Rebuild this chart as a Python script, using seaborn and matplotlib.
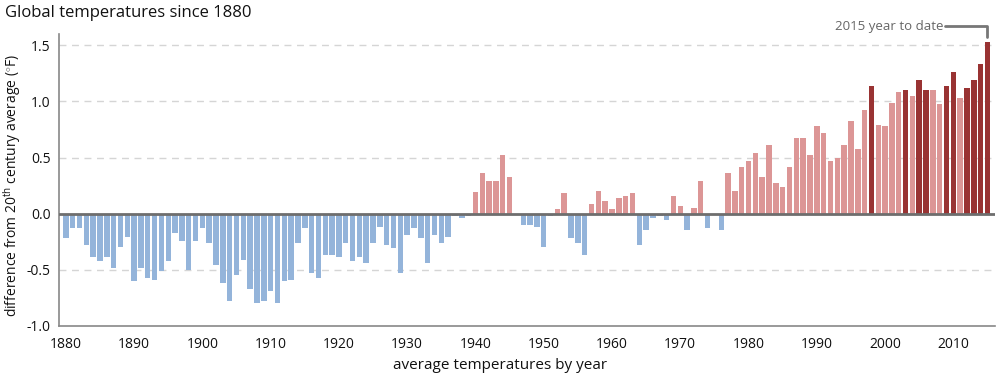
import numpy as np
import pandas as pd
import matplotlib
matplotlib.use('Agg')
import matplotlib.pyplot as plt
import seaborn as sns

# yearly anomaly (deg F), 1880 - 2015
years = list(range(1880, 2016))
anomaly = [
	-0.22, -0.13, -0.13, -0.28, -0.39, -0.42, -0.39, -0.48, -0.30, -0.21,   # 1880s
	-0.60, -0.48, -0.57, -0.59, -0.51, -0.42, -0.17, -0.24, -0.50, -0.24,   # 1890s
	-0.13, -0.26, -0.46, -0.62, -0.78, -0.55, -0.41, -0.67, -0.80, -0.78,   # 1900s
	-0.69, -0.80, -0.60, -0.59, -0.26, -0.13, -0.53, -0.57, -0.37, -0.37,   # 1910s
	-0.39, -0.26, -0.42, -0.39, -0.44, -0.26, -0.12, -0.28, -0.31, -0.53,   # 1920s
	-0.19, -0.13, -0.22, -0.44, -0.19, -0.26, -0.21, -0.02, -0.04, -0.02,   # 1930s
	0.19, 0.36, 0.29, 0.29, 0.52, 0.33, -0.005, -0.10, -0.10, -0.12,        # 1940s
	-0.30, -0.02, 0.04, 0.18, -0.22, -0.26, -0.37, 0.09, 0.20, 0.11,        # 1950s
	0.04, 0.14, 0.16, 0.18, -0.28, -0.15, -0.04, -0.02, -0.06, 0.16,        # 1960s
	0.07, -0.15, 0.05, 0.29, -0.13, -0.005, -0.15, 0.36, 0.20, 0.42,        # 1970s
	0.47, 0.54, 0.33, 0.61, 0.27, 0.24, 0.42, 0.67, 0.67, 0.52,             # 1980s
	0.78, 0.72, 0.47, 0.50, 0.61, 0.83, 0.58, 0.92, 1.14, 0.79,             # 1990s
	0.78, 0.99, 1.08, 1.10, 1.05, 1.19, 1.10, 1.10, 0.98, 1.14,             # 2000s
	1.26, 1.03, 1.12, 1.19, 1.33, 1.53,                                     # 2010s
]
# ten warmest years, drawn in dark red
top_years = [1998, 2003, 2005, 2006, 2009, 2010, 2012, 2013, 2014, 2015]

colors = {'below': '#94b4da', 'above': '#dc9696', 'top': '#993333'}

group = []
for y, v in zip(years, anomaly):
	if y in top_years:
		group.append('top')
	elif v < 0:
		group.append('below')
	else:
		group.append('above')
df = pd.DataFrame({'year': years, 'anomaly': anomaly, 'group': group})

sns.set_style('white')
font = 'Open Sans'
plt.rcParams['font.family'] = [font, 'DejaVu Sans']
plt.rcParams['mathtext.fontset'] = 'custom'
plt.rcParams['mathtext.rm'] = font
plt.rcParams['mathtext.it'] = font

fig = plt.figure(figsize=(10, 3.75), dpi=100)
ax = fig.add_axes([0.059, 0.131, 0.936, 0.778])

sns.barplot(data=df, x='year', y='anomaly', hue='group', palette=colors,
	native_scale=True, dodge=False, width=0.8, saturation=1, linewidth=0,
	legend=False, ax=ax, zorder=3)

ax.set_xlim(1879.0, 2016.1)
ax.set_ylim(-1.0, 1.6)

# grid + zero line
for g in [-0.5, 0.5, 1.0, 1.5]:
	ax.axhline(g, color='#d5d5d5', lw=1, ls=(0, (5, 4)), zorder=1)
ax.axhline(0, color='#6e6e6e', lw=2, zorder=4)

ax.set_yticks([-1.0, -0.5, 0.0, 0.5, 1.0, 1.5])
ax.set_yticklabels(['-1.0', '-0.5', '0.0', '0.5', '1.0', '1.5'])
ax.set_xticks(range(1880, 2011, 10))
ax.set_xticklabels([str(y) for y in range(1880, 2011, 10)])
ax.set_xticks(range(1880, 2016), minor=True)
ax.tick_params(axis='x', which='major', length=6, width=1.5, color='#444444',
	labelsize=10, pad=2, labelcolor='#111111')
ax.tick_params(axis='x', which='minor', length=3.5, width=1, color='#888888')
ax.tick_params(axis='y', length=3, width=1, color='#888888', labelsize=10, pad=3,
	labelcolor='#111111')

for s in ['top', 'right']:
	ax.spines[s].set_visible(False)
for s in ['left', 'bottom']:
	ax.spines[s].set_color('#888888')
	ax.spines[s].set_linewidth(1.2)

ax.set_xlabel('average temperatures by year', fontsize=11, color='#111111')
ax.xaxis.set_label_coords(0.471, -0.11)
ax.set_ylabel(r'difference from 20$^{\mathrm{th}}$ century average ($^{\circ}$F)',
	fontsize=10, color='#111111')
ax.yaxis.set_label_coords(-0.038, 0.48)

fig.text(0.005, 0.965, 'Global temperatures since 1880', fontsize=12, color='#111111',
	ha='left', va='center')

# 2015 callout
ax.annotate('2015 year to date', xy=(2015, 1.53), xytext=(2008.5, 1.67),
	textcoords='data', ha='right', va='center', fontsize=9.5, color='#666666',
	annotation_clip=False)
ax.plot([2008.8, 2015, 2015], [1.67, 1.67, 1.575], color='#777777', lw=2,
	clip_on=False, zorder=5)

fig.savefig('out.png', dpi=100)
